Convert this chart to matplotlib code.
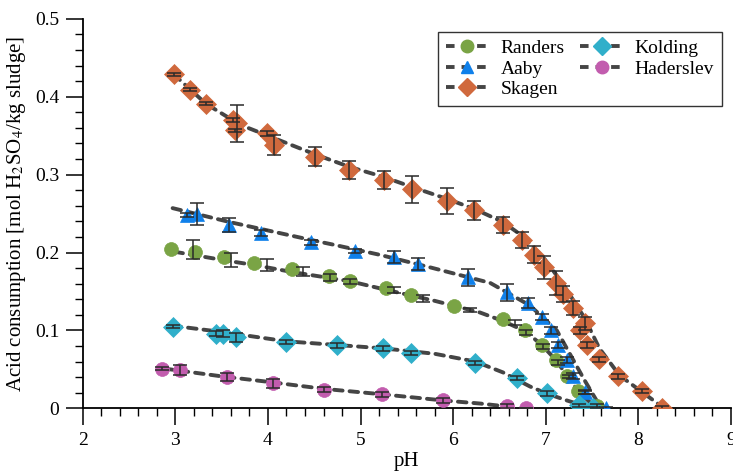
import matplotlib
matplotlib.use('Agg')
import matplotlib.pyplot as plt
from matplotlib.lines import Line2D
from matplotlib.ticker import MultipleLocator, FormatStrFormatter

plt.rcParams['font.family'] = ['Liberation Serif', 'DejaVu Serif']
plt.rcParams['mathtext.fontset'] = 'stix'

# ---- measured points (pH, acid consumption, error) ----
randers_ph = [2.95, 3.21, 3.53, 3.85, 4.26, 4.66, 4.89, 5.28, 5.55, 6.01, 6.54, 6.78, 6.96, 7.11, 7.23, 7.35, 7.55]
randers_acid = [0.204, 0.201, 0.194, 0.186, 0.179, 0.170, 0.163, 0.154, 0.145, 0.131, 0.114, 0.100, 0.081, 0.062, 0.042, 0.022, 0.003]
# error bars for Randers sit slightly off the markers in the original
randers_err_ph = [3.19, 3.60, 3.99, 4.38, 4.67, 4.89, 5.36, 5.67, 6.18, 6.67, 6.79, 6.97, 7.13, 7.25, 7.43, 7.55]
randers_err_acid = [0.204, 0.191, 0.184, 0.176, 0.168, 0.163, 0.152, 0.141, 0.126, 0.110, 0.097, 0.079, 0.059, 0.041, 0.020, 0.003]
randers_err = [0.012, 0.009, 0.008, 0.006, 0.005, 0.003, 0.004, 0.004, 0.003, 0.003, 0.003, 0.003, 0.003, 0.002, 0.002, 0.002]

aaby_ph = [3.13, 3.23, 3.58, 3.93, 4.47, 4.94, 5.36, 5.62, 6.16, 6.58, 6.81, 6.96, 7.06, 7.13, 7.23, 7.30, 7.43, 7.65]
aaby_acid = [0.248, 0.249, 0.235, 0.225, 0.213, 0.202, 0.194, 0.185, 0.168, 0.149, 0.135, 0.117, 0.100, 0.081, 0.062, 0.041, 0.021, 0.0]
aaby_err = [0.003, 0.014, 0.009, 0.004, 0.003, 0.003, 0.008, 0.008, 0.011, 0.011, 0.006, 0.004, 0.004, 0.004, 0.004, 0.004, 0.003, 0.002]

skagen_ph = [2.98, 3.16, 3.33, 3.62, 3.64, 3.67, 3.99, 4.06, 4.51, 4.88, 5.25, 5.56, 5.93, 6.23, 6.54, 6.74, 6.87, 6.98,
             7.11, 7.19, 7.29, 7.37, 7.42, 7.45, 7.58, 7.78, 8.04, 8.26]
skagen_acid = [0.429, 0.409, 0.391, 0.370, 0.357, 0.366, 0.353, 0.338, 0.323, 0.306, 0.293, 0.281, 0.266, 0.254, 0.235,
               0.216, 0.197, 0.181, 0.161, 0.147, 0.129, 0.100, 0.109, 0.081, 0.063, 0.041, 0.022, 0.0]
skagen_err = [0.002, 0.002, 0.002, 0.003, 0.002, 0.024, 0.003, 0.013, 0.012, 0.011, 0.012, 0.017, 0.017, 0.012, 0.010,
              0.010, 0.011, 0.015, 0.015, 0.010, 0.009, 0.004, 0.008, 0.004, 0.003, 0.003, 0.003, 0.003]

kolding_ph = [2.97, 3.44, 3.51, 3.66, 4.20, 4.75, 5.24, 5.54, 6.24, 6.69, 7.01, 7.36, 7.51]
kolding_acid = [0.105, 0.096, 0.096, 0.091, 0.085, 0.081, 0.077, 0.071, 0.058, 0.039, 0.019, 0.004, 0.0]
kolding_err = [0.002, 0.003, 0.004, 0.006, 0.003, 0.003, 0.003, 0.003, 0.003, 0.003, 0.003, 0.002, 0.002]

haderslev_ph = [2.86, 3.05, 3.56, 4.05, 4.60, 5.23, 5.89, 6.58, 6.79]
haderslev_acid = [0.051, 0.049, 0.040, 0.032, 0.024, 0.018, 0.010, 0.003, 0.0]
haderslev_err = [0.002, 0.006, 0.005, 0.006, 0.003, 0.003, 0.003, 0.002, 0.0]

# ---- dashed trend curves ----
randers_fit_ph = [2.99, 3.53, 3.85, 4.26, 4.89, 5.28, 5.8, 6.29, 6.54, 6.78, 6.96, 7.11, 7.23, 7.35, 7.52]
randers_fit_acid = [0.201, 0.190, 0.184, 0.175, 0.163, 0.152, 0.138, 0.123, 0.112, 0.099, 0.081, 0.062, 0.042, 0.022, 0.003]

aaby_fit_ph = [2.97, 3.59, 4.47, 4.71, 5.21, 5.75, 6.40, 6.83, 7.12, 7.42, 7.58]
aaby_fit_acid = [0.257, 0.239, 0.216, 0.210, 0.197, 0.181, 0.161, 0.132, 0.100, 0.036, 0.004]

skagen_fit_ph = [2.98, 3.33, 3.70, 4.02, 4.51, 4.88, 5.25, 5.56, 5.93, 6.23, 6.54, 6.74, 6.98, 7.19, 7.42, 7.58, 7.80, 8.04, 8.28]
skagen_fit_acid = [0.429, 0.391, 0.364, 0.349, 0.326, 0.310, 0.297, 0.284, 0.269, 0.256, 0.239, 0.222, 0.193, 0.159,
                   0.116, 0.077, 0.042, 0.021, 0.0]

kolding_fit_ph = [2.97, 3.5, 4.2, 5.24, 5.8, 6.24, 6.54, 6.83, 7.01, 7.23, 7.5]
kolding_fit_acid = [0.106, 0.098, 0.086, 0.077, 0.070, 0.060, 0.046, 0.028, 0.019, 0.010, 0.0]

haderslev_fit_ph = [2.88, 3.5, 4.0, 4.6, 5.23, 5.9, 6.3, 6.6]
haderslev_fit_acid = [0.051, 0.041, 0.034, 0.025, 0.018, 0.010, 0.006, 0.002]

names = ['Randers', 'Aaby', 'Skagen', 'Kolding', 'Haderslev']
colors = ['#7aa445', '#0f80ea', '#d0693d', '#30afca', '#c25cae']
markers = ['o', '^', 'D', 'D', 'o']
sizes = [10, 10, 10, 10, 10]

points = [
    (randers_ph, randers_acid),
    (aaby_ph, aaby_acid),
    (skagen_ph, skagen_acid),
    (kolding_ph, kolding_acid),
    (haderslev_ph, haderslev_acid),
]
errs = [
    (randers_err_ph, randers_err_acid, randers_err),
    (aaby_ph, aaby_acid, aaby_err),
    (skagen_ph, skagen_acid, skagen_err),
    (kolding_ph, kolding_acid, kolding_err),
    (haderslev_ph, haderslev_acid, haderslev_err),
]
fits = [
    (randers_fit_ph, randers_fit_acid),
    (aaby_fit_ph, aaby_fit_acid),
    (skagen_fit_ph, skagen_fit_acid),
    (kolding_fit_ph, kolding_fit_acid),
    (haderslev_fit_ph, haderslev_fit_acid),
]

line_color = '#454545'
dash = (0, (2.2, 1.8))

fig = plt.figure(figsize=(7.33, 4.72), dpi=100)
ax = fig.add_axes([0.113, 0.135, 0.884, 0.825])

handles = []
for i in range(5):
    fx, fy = fits[i]
    ax.plot(fx, fy, color=line_color, lw=2.8, linestyle=dash, dash_capstyle='round', zorder=2)
    px, py = points[i]
    ax.plot(px, py, linestyle='none', marker=markers[i], ms=sizes[i], color=colors[i],
            markeredgecolor=colors[i], markeredgewidth=0.5, zorder=3)
    ex, ey, ee = errs[i]
    ax.errorbar(ex, ey, yerr=ee, fmt='none', ecolor='#2a2a2a', elinewidth=1.1, capsize=5,
                capthick=1.1, zorder=4)
    handles.append(Line2D([], [], color=line_color, lw=2.8, linestyle=dash, marker=markers[i],
                          ms=9, markerfacecolor=colors[i], markeredgecolor=colors[i]))

ax.set_xlim(2, 9)
ax.set_ylim(0, 0.5)
ax.xaxis.set_major_locator(MultipleLocator(1))
ax.xaxis.set_minor_locator(MultipleLocator(0.2))
ax.yaxis.set_major_locator(MultipleLocator(0.1))
ax.yaxis.set_minor_locator(MultipleLocator(0.02))
ax.yaxis.set_major_formatter(FormatStrFormatter('%g'))
ax.tick_params(which='major', direction='out', length=12, width=1.1, labelsize=14, pad=5)
ax.tick_params(which='minor', direction='out', length=6, width=1.0)
for s in ['top', 'right']:
    ax.spines[s].set_visible(False)
for s in ['left', 'bottom']:
    ax.spines[s].set_linewidth(1.3)

ax.set_xlabel('pH', fontsize=15, labelpad=2)
ax.set_ylabel(r'Acid consumption [mol H$_2$SO$_4$/kg sludge]', fontsize=15, labelpad=5)

leg = ax.legend(handles, names, ncol=2, loc='upper right', bbox_to_anchor=(0.986, 0.967),
                fontsize=14, frameon=True, fancybox=False, edgecolor='black', borderaxespad=0,
                handlelength=2.2, handletextpad=0.6, columnspacing=0.8, labelspacing=0.15,
                borderpad=0.4)
leg.get_frame().set_linewidth(1.0)

plt.savefig('out.png', dpi=100)
